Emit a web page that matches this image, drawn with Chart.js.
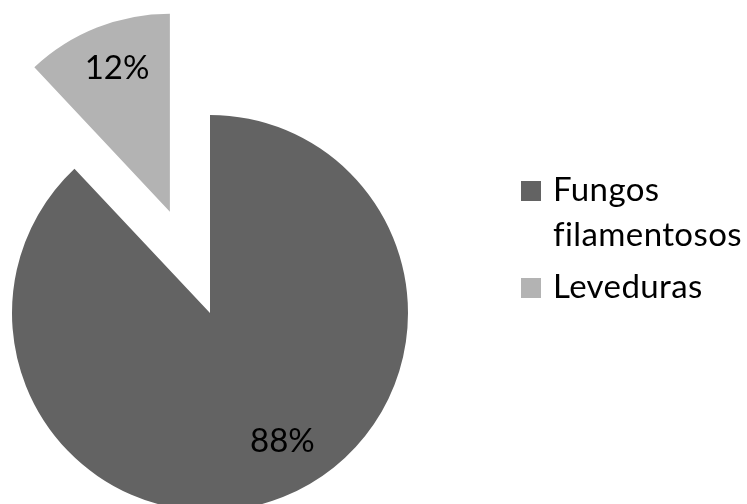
<!DOCTYPE html>
<html>
<head>
<meta charset="utf-8">
<script src="https://cdn.jsdelivr.net/npm/chart.js@4.4.1/dist/chart.umd.min.js"></script>
<style>
  html, body { margin: 0; padding: 0; background: #ffffff; }
  #wrap { width: 747px; height: 504px; }
</style>
</head>
<body>
<div id="wrap"><canvas id="pie" width="747" height="504"></canvas></div>
<script>
// Categories and their shares (%)
const categories = ['Fungos filamentosos', 'Leveduras'];
const legendLines = [['Fungos', 'filamentosos'], ['Leveduras']];
const shares = [88, 12];

const sliceColors = ['#636363', '#b3b3b3'];
const FONT = 'Lato, "Open Sans", sans-serif';

// Pulls slices out of the pie by a pure translation along their bisector
const explodePlugin = {
  id: 'explode',
  afterDatasetsUpdate(chart, args, opts) {
    const meta = chart.getDatasetMeta(0);
    meta.data.forEach((arc, i) => {
      const d = (opts.distance || [])[i] || 0;
      if (!d) return;
      const mid = (arc.startAngle + arc.endAngle) / 2;
      arc.x += Math.cos(mid) * d;
      arc.y += Math.sin(mid) * d;
    });
  }
};

// Percentage labels inside each slice
const sliceLabelPlugin = {
  id: 'sliceLabels',
  afterDatasetsDraw(chart, args, opts) {
    const ctx = chart.ctx;
    const values = chart.data.datasets[0].data;
    const total = values.reduce((a, b) => a + b, 0);
    const meta = chart.getDatasetMeta(0);
    ctx.save();
    ctx.font = opts.font;
    ctx.fillStyle = opts.color;
    ctx.textAlign = 'center';
    ctx.textBaseline = 'alphabetic';
    meta.data.forEach((arc, i) => {
      const mid = (arc.startAngle + arc.endAngle) / 2 + (opts.angleShift[i] || 0) * Math.PI / 180;
      const r = arc.outerRadius * opts.radiusFraction[i];
      const x = arc.x + Math.cos(mid) * r;
      const y = arc.y + Math.sin(mid) * r;
      const pct = Math.round(values[i] / total * 100) + '%';
      ctx.fillText(pct, x, y + opts.baselineDrop);
    });
    ctx.restore();
  }
};

// Legend on the right with wrapped entries
const sideLegendPlugin = {
  id: 'sideLegend',
  afterDraw(chart, args, opts) {
    const ctx = chart.ctx;
    const colors = chart.data.datasets[0].backgroundColor;
    ctx.save();
    ctx.font = opts.font;
    if ('letterSpacing' in ctx) ctx.letterSpacing = opts.letterSpacing;
    ctx.textAlign = 'left';
    ctx.textBaseline = 'alphabetic';
    let baseline = opts.firstBaseline;
    legendLines.forEach((lines, i) => {
      ctx.fillStyle = colors[i];
      ctx.fillRect(opts.x, baseline - opts.boxRise, opts.boxSize, opts.boxSize);
      ctx.fillStyle = '#000000';
      lines.forEach((line, j) => {
        ctx.fillText(line, opts.x + opts.textGap, baseline);
        if (j < lines.length - 1) baseline += opts.lineHeight;
      });
      baseline += opts.entryGap;
    });
    ctx.restore();
  }
};

new Chart(document.getElementById('pie'), {
  type: 'pie',
  data: {
    labels: categories,
    datasets: [{
      data: shares,
      backgroundColor: sliceColors,
      borderWidth: 0
    }]
  },
  options: {
    responsive: false,
    animation: false,
    events: [],
    radius: 198,
    layout: { padding: { left: 0, right: 327, top: 122, bottom: 0 } },
    plugins: {
      legend: { display: false },
      tooltip: { enabled: false },
      explode: { distance: [0, 109] },
      sliceLabels: {
        font: '33px ' + FONT,
        color: '#000000',
        radiusFraction: [0.74, 0.78],
        angleShift: [-8, 1.6],
        baselineDrop: 12
      },
      sideLegend: {
        font: '33px ' + FONT,
        letterSpacing: '0.4px',
        x: 521,
        firstBaseline: 201,
        boxSize: 20,
        boxRise: 20,
        textGap: 32,
        lineHeight: 45,
        entryGap: 52
      }
    }
  },
  plugins: [explodePlugin, sliceLabelPlugin, sideLegendPlugin]
});
</script>
</body>
</html>
